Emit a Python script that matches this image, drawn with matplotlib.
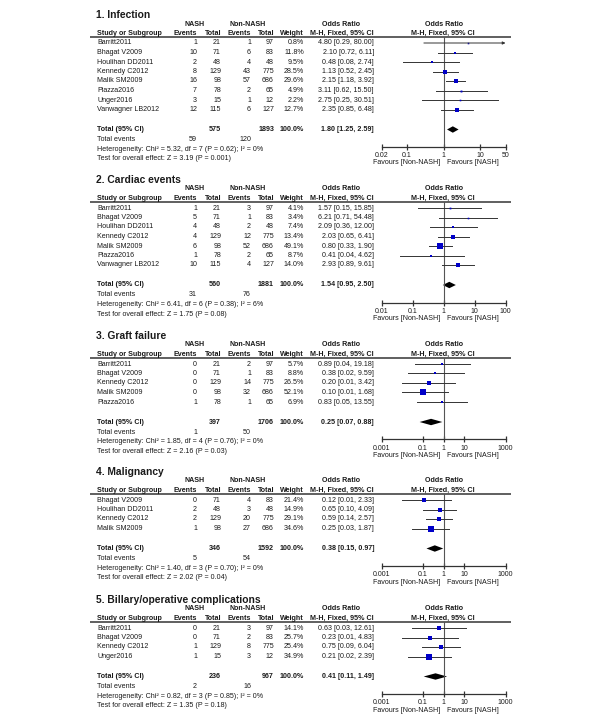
import numpy as np
import matplotlib
matplotlib.use('Agg')
from matplotlib import pyplot as plt

plt.rcParams['font.family'] = ['Liberation Sans', 'DejaVu Sans']

# ---- dados ----
titles = ['1. Infection', '2. Cardiac events', '3. Graft failure',
          '4. Malignancy', '5. Billary/operative complications']

studies = [
    ['Barritt2011', 'Bhagat V2009', 'Houlihan DD2011', 'Kennedy C2012',
     'Malik SM2009', 'Piazza2016', 'Unger2016', 'Vanwagner LB2012'],
    ['Barritt2011', 'Bhagat V2009', 'Houlihan DD2011', 'Kennedy C2012',
     'Malik SM2009', 'Piazza2016', 'Vanwagner LB2012'],
    ['Barritt2011', 'Bhagat V2009', 'Kennedy C2012', 'Malik SM2009', 'Piazza2016'],
    ['Bhagat V2009', 'Houlihan DD2011', 'Kennedy C2012', 'Malik SM2009'],
    ['Barritt2011', 'Bhagat V2009', 'Kennedy C2012', 'Unger2016'],
]
nash_events = [[1, 10, 2, 8, 16, 7, 3, 12], [1, 5, 4, 4, 6, 1, 10],
               [0, 0, 0, 0, 1], [0, 2, 2, 1], [0, 0, 1, 1]]
nash_total = [[21, 71, 48, 129, 98, 78, 15, 115], [21, 71, 48, 129, 98, 78, 115],
              [21, 71, 129, 98, 78], [71, 48, 129, 98], [21, 71, 129, 15]]
non_events = [[1, 6, 4, 43, 57, 2, 1, 6], [3, 1, 2, 12, 52, 2, 4],
              [2, 1, 14, 32, 1], [4, 3, 20, 27], [3, 2, 8, 3]]
non_total = [[97, 83, 48, 775, 686, 65, 12, 127], [97, 83, 48, 775, 686, 65, 127],
             [97, 83, 775, 686, 65], [83, 48, 775, 686], [97, 83, 775, 12]]
weights = [[0.8, 11.8, 9.5, 28.5, 29.6, 4.9, 2.2, 12.7],
           [4.1, 3.4, 7.4, 13.4, 49.1, 8.7, 14.0],
           [5.7, 8.8, 26.5, 52.1, 6.9],
           [21.4, 14.9, 29.1, 34.6],
           [14.1, 25.7, 25.4, 34.9]]
odds = [[4.80, 2.10, 0.48, 1.13, 2.15, 3.11, 2.75, 2.35],
        [1.57, 6.21, 2.09, 2.03, 0.80, 0.41, 2.93],
        [0.89, 0.38, 0.20, 0.10, 0.83],
        [0.12, 0.65, 0.59, 0.25],
        [0.63, 0.23, 0.75, 0.21]]
ci_low = [[0.29, 0.72, 0.08, 0.52, 1.18, 0.62, 0.25, 0.85],
          [0.15, 0.71, 0.36, 0.65, 0.33, 0.04, 0.89],
          [0.04, 0.02, 0.01, 0.01, 0.05],
          [0.01, 0.10, 0.14, 0.03],
          [0.03, 0.01, 0.09, 0.02]]
ci_high = [[80.00, 6.11, 2.74, 2.45, 3.92, 15.50, 30.51, 6.48],
           [15.85, 54.48, 12.00, 6.41, 1.90, 4.62, 9.61],
           [19.18, 9.59, 3.42, 1.68, 13.55],
           [2.33, 4.09, 2.57, 1.87],
           [12.61, 4.83, 6.04, 2.39]]

tot_nash_n = [575, 560, 397, 346, 236]
tot_non_n = [1893, 1881, 1706, 1592, 967]
tot_nash_ev = [59, 31, 1, 5, 2]
tot_non_ev = [120, 76, 50, 54, 16]
tot_or = [1.80, 1.54, 0.25, 0.38, 0.41]
tot_lo = [1.25, 0.95, 0.07, 0.15, 0.11]
tot_hi = [2.59, 2.50, 0.88, 0.97, 1.49]
chi2 = ['5.32', '6.41', '1.85', '1.40', '0.82']
dfs = [7, 6, 4, 3, 3]
het_p = ['0.62', '0.38', '0.76', '0.70', '0.85']
i2 = [0, 6, 0, 0, 0]
zval = ['3.19', '1.75', '2.16', '2.02', '1.35']
z_p = ['0.001', '0.08', '0.03', '0.04', '0.18']

xlims = [(0.02, 50), (0.01, 100), (0.001, 1000), (0.001, 1000), (0.001, 1000)]
xticks = [[0.02, 0.1, 1, 10, 50], [0.01, 0.1, 1, 10, 100],
          [0.001, 0.1, 1, 10, 1000], [0.001, 0.1, 1, 10, 1000],
          [0.001, 0.1, 1, 10, 1000]]
xticklabels = [['0.02', '0.1', '1', '10', '50'], ['0.01', '0.1', '1', '10', '100'],
               ['0.001', '0.1', '1', '10', '1000'], ['0.001', '0.1', '1', '10', '1000'],
               ['0.001', '0.1', '1', '10', '1000']]

# ---- layout (pixels) ----
W, H = 600, 723
tops = [15, 180, 336, 472, 600]
TXT = '#1a1a1a'
FS = 5.1
X_STUDY, X_NEV, X_NT, X_OEV, X_OT, X_W, X_CI = 97, 197, 221, 251, 274, 304, 374
PX0, PX1 = 381.5, 505.5

fig = plt.figure(figsize=(6, 7.23), dpi=100)
bg = fig.add_axes([0, 0, 1, 1])
bg.set_xlim(0, W)
bg.set_ylim(H, 0)
bg.axis('off')


def t(x, y, s, ha='left', bold=False, fs=FS):
    bg.text(x, y, s, ha=ha, va='center', fontsize=fs, color=TXT,
            fontweight='bold' if bold else 'normal')


for p in range(5):
    T = tops[p]
    L = T + 22
    n = len(studies[p])
    rows = [T + 28 + i * 9.5 for i in range(n)]
    ytot = rows[-1] + 20
    yev = ytot + 10
    yhet = yev + 9.7
    ytest = yhet + 9.5
    yax = ytot + 17.5

    # cabecalho
    t(96, T, titles[p], bold=True, fs=7.4)
    t(195, T + 9, 'NASH', ha='center', bold=True)
    t(248, T + 9, 'Non-NASH', ha='center', bold=True)
    t(341, T + 9, 'Odds Ratio', ha='center', bold=True)
    t(444, T + 9, 'Odds Ratio', ha='center', bold=True)
    hy = L - 3.8
    t(X_STUDY, hy, 'Study or Subgroup', bold=True)
    t(X_NEV, hy, 'Events', ha='right', bold=True)
    t(X_NT, hy, 'Total', ha='right', bold=True)
    t(X_OEV, hy, 'Events', ha='right', bold=True)
    t(X_OT, hy, 'Total', ha='right', bold=True)
    t(X_W, hy, 'Weight', ha='right', bold=True)
    t(X_CI, hy, 'M-H, Fixed, 95% CI', ha='right', bold=True)
    t(443, hy, 'M-H, Fixed, 95% CI', ha='center', bold=True)
    bg.plot([90, 511], [L, L], color='#444444', lw=1.2, solid_capstyle='butt')

    # linhas dos estudos
    for i in range(n):
        y = rows[i]
        t(X_STUDY, y, studies[p][i])
        t(X_NEV, y, str(nash_events[p][i]), ha='right')
        t(X_NT, y, str(nash_total[p][i]), ha='right')
        t(X_OEV, y, str(non_events[p][i]), ha='right')
        t(X_OT, y, str(non_total[p][i]), ha='right')
        t(X_W, y, '{:.1f}%'.format(weights[p][i]), ha='right')
        t(X_CI, y, '{:.2f} [{:.2f}, {:.2f}]'.format(odds[p][i], ci_low[p][i], ci_high[p][i]), ha='right')

    t(X_STUDY, ytot, 'Total (95% CI)', bold=True)
    t(X_NT, ytot, str(tot_nash_n[p]), ha='right', bold=True)
    t(X_OT, ytot, str(tot_non_n[p]), ha='right', bold=True)
    t(X_W, ytot, '100.0%', ha='right', bold=True)
    t(X_CI, ytot, '{:.2f} [{:.2f}, {:.2f}]'.format(tot_or[p], tot_lo[p], tot_hi[p]), ha='right', bold=True)
    t(X_STUDY, yev, 'Total events')
    t(X_NEV, yev, str(tot_nash_ev[p]), ha='right')
    t(X_OEV, yev, str(tot_non_ev[p]), ha='right')
    t(X_STUDY, yhet, 'Heterogeneity: Chi\u00b2 = {}, df = {} (P = {}); I\u00b2 = {}%'.format(
        chi2[p], dfs[p], het_p[p], i2[p]))
    t(X_STUDY, ytest, 'Test for overall effect: Z = {} (P = {})'.format(zval[p], z_p[p]))

    # forest plot
    fa = fig.add_axes([PX0 / W, 1 - yax / H, (PX1 - PX0) / W, (yax - L) / H])
    fa.patch.set_visible(False)
    fa.set_xscale('log')
    xmin, xmax = xlims[p]
    fa.set_xlim(xmin, xmax)
    fa.set_ylim(yax, L)
    for s in ['left', 'top', 'right']:
        fa.spines[s].set_visible(False)
    fa.spines['bottom'].set_color('#333333')
    fa.spines['bottom'].set_linewidth(0.9)
    fa.set_yticks([])
    fa.set_xticks(xticks[p])
    fa.set_xticklabels(xticklabels[p])
    fa.minorticks_off()
    fa.tick_params(axis='x', direction='inout', length=5, width=0.9, color='#333333',
                   labelsize=5, pad=1.2, labelcolor=TXT)
    fa.axvline(1, color='#555555', lw=0.8)

    for i in range(n):
        y = rows[i]
        lo, hi = ci_low[p][i], ci_high[p][i]
        if hi > xmax:
            fa.annotate('', xy=(xmax, y), xytext=(lo, y),
                        arrowprops=dict(arrowstyle='-|>', color='#333333', lw=0.7,
                                        mutation_scale=4, shrinkA=0, shrinkB=0))
        else:
            fa.plot([lo, hi], [y, y], color='#333333', lw=0.7)
        side = max(1.6, 6.2 * np.sqrt(weights[p][i] / 52.0))
        fa.plot(odds[p][i], y, 's', color='#0000c8', ms=side * 0.72, mew=0)

    fa.fill([tot_lo[p], tot_or[p], tot_hi[p], tot_or[p]],
            [ytot, ytot - 3.2, ytot, ytot + 3.2], color='black', lw=0)

    t(440, yax + 16, 'Favours [Non-NASH]', ha='right')
    t(447, yax + 16, 'Favours [NASH]', ha='left')

plt.savefig('out.png', dpi=100)
